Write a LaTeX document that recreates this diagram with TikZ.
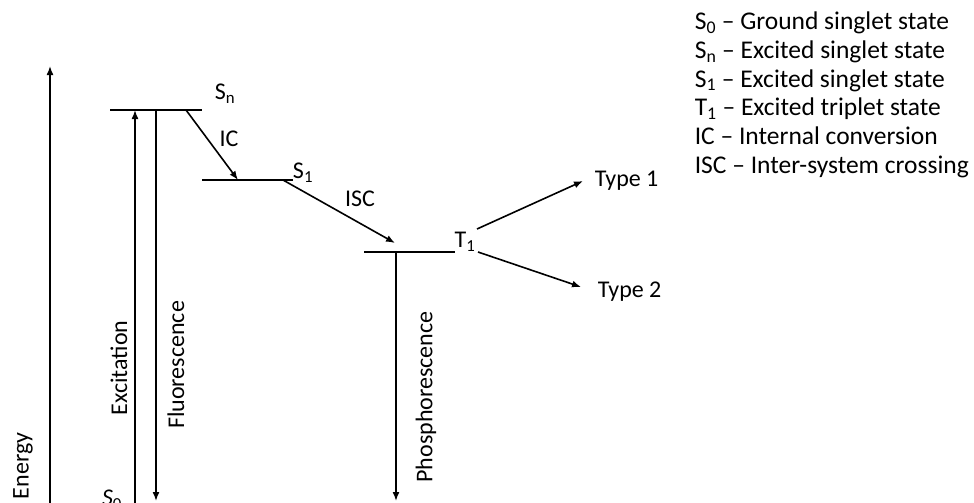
\documentclass[tikz,border=0pt]{standalone}
\usepackage{fontspec}
\setmainfont{Carlito}
\usetikzlibrary{arrows.meta}
\newcommand{\lvl}[2]{#1\textsubscript{#2}}

\begin{document}
\begin{tikzpicture}[x=1pt,y=-1pt,font=\fontsize{24}{28}\selectfont,
    line width=1.6pt,>={Latex[length=9pt,width=7pt]},
    main node/.style={inner sep=0pt},
    rot node/.style={inner sep=0pt,rotate=90}]
  \useasboundingbox (0,0) rectangle (974,503);

  % energy levels
  \coordinate (snl) at (110,110);  \coordinate (snr) at (202,110);
  \coordinate (s1l) at (202,180);  \coordinate (s1r) at (293,180);
  \coordinate (t1l) at (364,252);  \coordinate (t1r) at (455,252);
  \draw (snl) -- (snr);
  \draw (s1l) -- (s1r);
  \draw (t1l) -- (t1r);

  \node[main node] (sn) at (225,94) {\lvl{S}{n}};
  \node[main node] (s1) at (303,173) {\lvl{S}{1}};
  \node[main node] (t1) at (465,242) {\lvl{T}{1}};
  \node[main node] (s0) at (112,500) {\lvl{\textit{S}}{0}};

  % energy axis
  \coordinate (e0) at (50,510);
  \coordinate (e1) at (50,66);
  \draw[->] (e0) -- (e1);
  \node[rot node] (energy) at (23,466) {Energy};

  % excitation and fluorescence
  \coordinate (ex0) at (135,510);  \coordinate (ex1) at (135,110);
  \coordinate (fl0) at (156,110);  \coordinate (fl1) at (156,501);
  \draw[->] (ex0) -- (ex1);
  \draw[->] (fl0) -- (fl1);
  \node[rot node] (exc) at (119,368) {Excitation};
  \node[rot node] (flu) at (176,365) {Fluorescence};

  % IC and ISC
  \coordinate (ic0) at (186,110);  \coordinate (ic1) at (238,180);
  \coordinate (isc0) at (283,180); \coordinate (isc1) at (395,243);
  \draw[->] (ic0) -- (ic1);
  \draw[->] (isc0) -- (isc1);
  \node[main node] (ic) at (229,139) {IC};
  \node[main node] (isc) at (360,199) {ISC};

  % phosphorescence
  \coordinate (ph0) at (396,252);  \coordinate (ph1) at (396,501);
  \draw[->] (ph0) -- (ph1);
  \node[rot node] (pho) at (426,397) {Phosphorescence};

  % type 1 / type 2
  \node[main node,anchor=west] (ty1) at (594,181) {Type 1};
  \node[main node,anchor=west] (ty2) at (597,292) {Type 2};
  \coordinate (a1) at (477,229);  \coordinate (b1) at (583,181);
  \coordinate (a2) at (478,252);  \coordinate (b2) at (581,287);
  \draw[->] (a1) -- (b1);
  \draw[->] (a2) -- (b2);

  % legend
  \node[main node,anchor=north west,align=left,
        font=\fontsize{25.5}{28.8}\selectfont] (leg) at (694,11) {%
    \lvl{S}{0} -- Ground singlet state\\
    \lvl{S}{n} -- Excited singlet state\\
    \lvl{S}{1} -- Excited singlet state\\
    \lvl{T}{1} -- Excited triplet state\\
    IC -- Internal conversion\\
    ISC -- Inter-system crossing};
\end{tikzpicture}
\end{document}
